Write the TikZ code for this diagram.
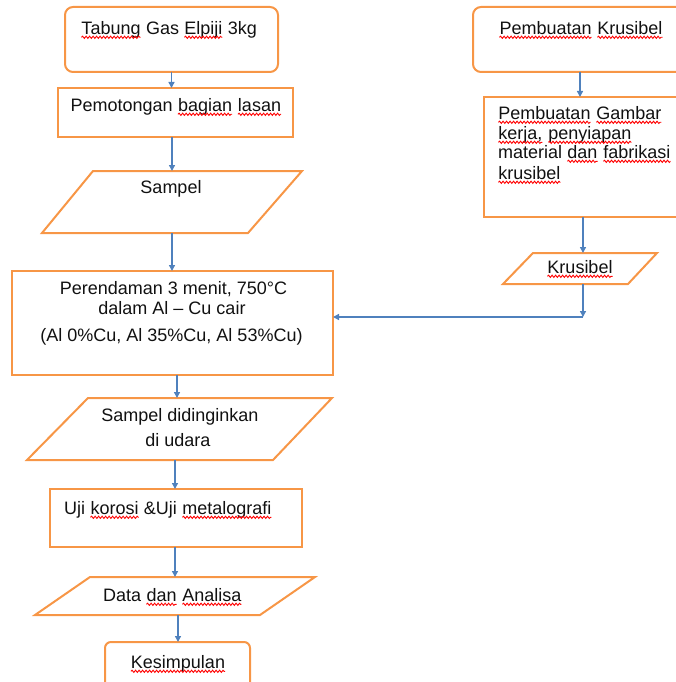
\documentclass[tikz,border=0pt]{standalone}
\usepackage{fontspec}
\setmainfont{Liberation Sans}
\usetikzlibrary{arrows.meta,decorations.pathmorphing}
\definecolor{obox}{HTML}{F79646}
\definecolor{barrow}{HTML}{4F81BD}
\definecolor{txt}{HTML}{111111}
\newcommand\sq[1]{\tikz[baseline=(sqw.base)]{\node[inner sep=0pt,outer sep=0pt,anchor=base](sqw){#1};\draw[red,line width=0.9pt,decorate,decoration={snake,amplitude=1.1pt,segment length=3.5pt}]([yshift=-2.8pt]sqw.base west)--([yshift=-2.8pt]sqw.base east);}}
\tikzset{
  box/.style={draw=obox, line width=2pt, inner sep=0pt, outer sep=0pt, rectangle},
  rbox/.style={box, rounded corners=8pt},
  hid/.style={inner sep=0pt, outer sep=0pt, rectangle, draw=none},
  para/.style={draw=obox, line width=2pt, line join=miter},
  arr/.style={draw=barrow, line width=1.4pt, -{Triangle[width=6pt,length=6pt]}},
  lbl/.style={font=\fontsize{18pt}{20pt}\selectfont, text=txt, inner sep=0pt, outer sep=0pt, anchor=base},
}
\begin{document}
\begin{tikzpicture}[x=1pt,y=-1pt]
\useasboundingbox (0,0) rectangle (675,682);
% left column shapes
\node[rbox, minimum width=213pt, minimum height=65pt] (b1) at (171.5,39.5) {};
\node[box, minimum width=235pt, minimum height=49pt] (b2) at (175.5,112.5) {};
\node[hid, minimum width=260pt, minimum height=62pt] (p1) at (172,202) {};
\draw[para] (93,171) -- (302,171) -- (248,233) -- (42,233) -- cycle;
\node[box, minimum width=321pt, minimum height=104pt] (b3) at (172.5,323) {};
\node[hid, minimum width=305pt, minimum height=62pt] (p2) at (179.5,429) {};
\draw[para] (88,398) -- (332,398) -- (273,460) -- (27,460) -- cycle;
\node[box, minimum width=252pt, minimum height=58pt] (b4) at (176,518) {};
\node[hid, minimum width=280pt, minimum height=38pt] (p3) at (175,596) {};
\draw[para] (90,577) -- (315,577) -- (260,615) -- (35,615) -- cycle;
\node[box, rounded corners=6pt, minimum width=145pt, minimum height=58pt] (b5) at (177.5,671) {};
% right column shapes
\node[rbox, minimum width=227pt, minimum height=65pt] (r1) at (586.5,39.5) {};
\node[box, minimum width=216pt, minimum height=120pt] (r2) at (592,157) {};
\node[hid, minimum width=154pt, minimum height=31pt] (r3) at (580,268.5) {};
\draw[para] (533,253) -- (657,253) -- (628,284) -- (503,284) -- cycle;
% texts
\node[lbl] (t1) at (169,34.5) {\sq{Tabung} Gas \sq{Elpiji} 3kg};
\node[lbl] (t2) at (176,111.5) {Pemotongan \sq{bagian} \sq{lasan}};
\node[lbl] (t3) at (171,193.5) {Sampel};
\node[lbl] (t4a) at (173.5,294.5) {Perendaman 3 menit, 750°C};
\node[lbl] (t4b) at (172,314.5) {dalam Al – Cu cair};
\node[lbl] (t4c) at (171.5,341.5) {(Al 0\%Cu, Al 35\%Cu, Al 53\%Cu)};
\node[lbl] (t5a) at (180,421.5) {Sampel didinginkan};
\node[lbl] (t5b) at (178,446.5) {di udara};
\node[lbl] (t6) at (168,514.5) {Uji \sq{korosi} \&Uji \sq{metalografi}};
\node[lbl] (t7) at (172.5,601.5) {Data \sq{dan} \sq{Analisa}};
\node[lbl] (t8) at (178,668.5) {\sq{Kesimpulan}};
\node[lbl] (u1) at (581,34.5) {\sq{Pembuatan} \sq{Krusibel}};
\node[lbl, anchor=base west] (u2a) at (498,119.5) {\sq{Pembuatan} \sq{Gambar}};
\node[lbl, anchor=base west] (u2b) at (498,139.5) {\sq{kerja,} \sq{penyiapan}};
\node[lbl, anchor=base west] (u2c) at (498,158.5) {material \sq{dan} \sq{fabrikasi}};
\node[lbl, anchor=base west] (u2d) at (498,179.5) {\sq{krusibel}};
\node[lbl] (u3) at (580,273.5) {\sq{Krusibel}};
% connectors
\coordinate (c1) at (172,0);
\coordinate (c2) at (177,0);
\coordinate (c3) at (175,0);
\coordinate (c4) at (178,0);
\coordinate (c5) at (580,0);
\coordinate (c6) at (583,0);
\coordinate (jn) at (583,317);
\draw[arr] (b1.south) -- (b1.south |- b2.north);
\draw[arr] (b2.south -| c1) -- (p1.north -| c1);
\draw[arr] (p1.south -| c1) -- (b3.north -| c1);
\draw[arr] (b3.south -| c2) -- (p2.north -| c2);
\draw[arr] (p2.south -| c3) -- (b4.north -| c3);
\draw[arr] (b4.south -| c3) -- (p3.north -| c3);
\draw[arr] (p3.south -| c4) -- (b5.north -| c4);
\draw[arr] (r1.south -| c5) -- (r2.north -| c5);
\draw[arr] (r2.south -| c6) -- (r3.north -| c6);
\draw[arr] (r3.south -| c6) -- (jn);
\draw[arr] (jn) -- (jn -| b3.east);
\end{tikzpicture}
\end{document}
